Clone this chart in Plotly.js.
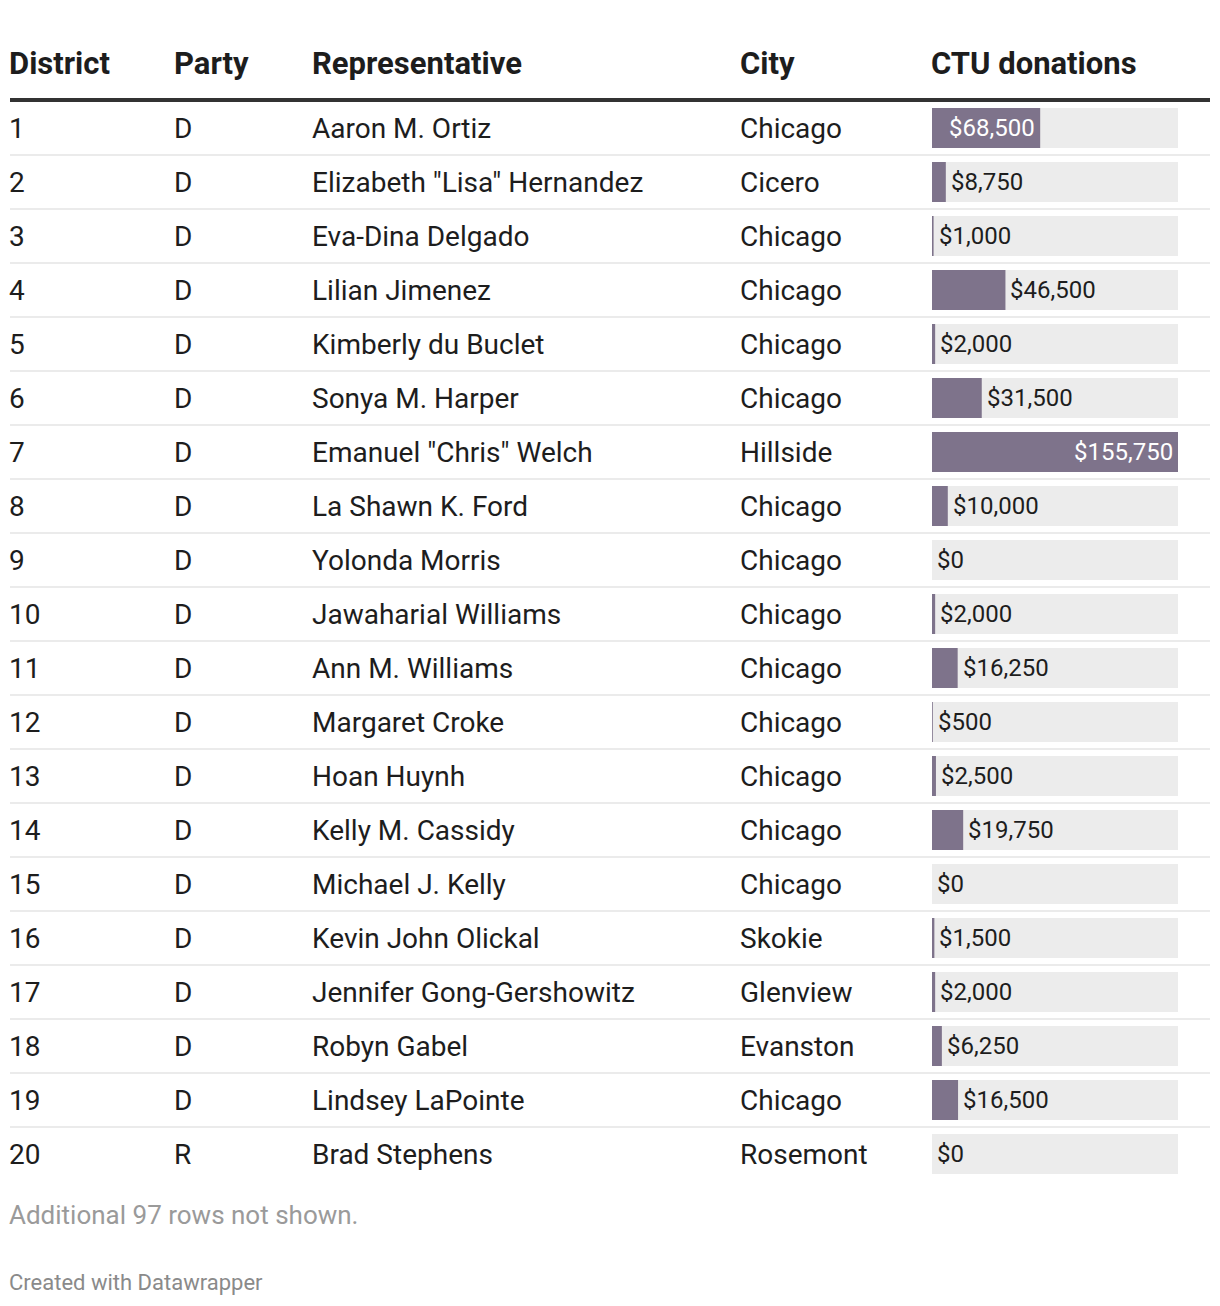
<!DOCTYPE html>
<html>
<head>
<meta charset="utf-8">
<script src="https://cdn.plot.ly/plotly-3.0.1.min.js"></script>
<style>html,body{margin:0;padding:0;background:#fff;}#chart{width:1220px;height:1306px;}</style>
</head>
<body>
<div id="chart"></div>
<script>
const headers = ["District", "Party", "Representative", "City", "CTU donations"];
const districts = ["1","2","3","4","5","6","7","8","9","10","11","12","13","14","15","16","17","18","19","20"];
const parties = ["D","D","D","D","D","D","D","D","D","D","D","D","D","D","D","D","D","D","D","R"];
const representatives = ["Aaron M. Ortiz","Elizabeth \"Lisa\" Hernandez","Eva-Dina Delgado","Lilian Jimenez","Kimberly du Buclet","Sonya M. Harper","Emanuel \"Chris\" Welch","La Shawn K. Ford","Yolonda Morris","Jawaharial Williams","Ann M. Williams","Margaret Croke","Hoan Huynh","Kelly M. Cassidy","Michael J. Kelly","Kevin John Olickal","Jennifer Gong-Gershowitz","Robyn Gabel","Lindsey LaPointe","Brad Stephens"];
const cities = ["Chicago","Cicero","Chicago","Chicago","Chicago","Chicago","Hillside","Chicago","Chicago","Chicago","Chicago","Chicago","Chicago","Chicago","Chicago","Skokie","Glenview","Evanston","Chicago","Rosemont"];
const donations = [68500,8750,1000,46500,2000,31500,155750,10000,0,2000,16250,500,2500,19750,0,1500,2000,6250,16500,0];
const footnote = "Additional 97 rows not shown.";
const credit = "Created with Datawrapper";

const W = 1220, H = 1306;
const rowH = 54, firstRowY = 128;
const toRow = px => (px - firstRowY) / rowH;
const rows = donations.map((_, i) => i);
const maxVal = Math.max(...donations);
const fmt = v => "$" + v.toLocaleString("en-US");

const textColor = "#1d1d1d";
const barColor = "#7e738b";
const trackColor = "#ececec";
const font = "Roboto, 'Noto Sans', sans-serif";

const colX = [10, 175, 313, 741, 932];
const barX0 = 932, barX1 = 1178;
const labelSize = 24;

const annotations = [];
headers.forEach((h, c) => {
  annotations.push({xref: "paper", yref: "y", x: colX[c] / W, xshift: -3, y: toRow(63), xanchor: "left", yanchor: "middle",
    text: "<b>" + h + "</b>", showarrow: false, font: {family: font, size: 31, color: textColor}});
});
const cols = [districts, parties, representatives, cities];
cols.forEach((col, c) => {
  col.forEach((t, i) => {
    annotations.push({xref: "paper", yref: "y", x: colX[c] / W, xshift: -3, y: i, xanchor: "left", yanchor: "middle",
      text: t, showarrow: false, font: {family: font, size: 28, color: textColor}});
  });
});
// value labels: inside the bar (white, right-aligned) if they fit, else just after the bar end
donations.forEach((v, i) => {
  const label = fmt(v);
  const commas = (label.match(/,/g) || []).length;
  const estW = ((label.length - commas) * 0.562 + commas * 0.22) * labelSize;
  const barPx = v / maxVal * (barX1 - barX0);
  const inside = barPx >= estW + 14;
  annotations.push({xref: "x", yref: "y", x: v, y: i, showarrow: false,
    xanchor: inside ? "right" : "left", xshift: inside ? -3 : 3, yanchor: "middle",
    text: label, font: {family: font, size: labelSize, color: inside ? "#ffffff" : textColor}});
});
annotations.push({xref: "paper", yref: "y", x: 10 / W, xshift: -3, y: toRow(1215), xanchor: "left", yanchor: "middle",
  text: footnote, showarrow: false, font: {family: font, size: 26, color: "#9a9a9a"}});
annotations.push({xref: "paper", yref: "y", x: 10 / W, xshift: -3, y: toRow(1282), xanchor: "left", yanchor: "middle",
  text: credit, showarrow: false, font: {family: font, size: 22, color: "#8a8a8a"}});

const shapes = [];
shapes.push({type: "line", xref: "paper", yref: "y", x0: 10 / W, x1: 1210 / W, y0: toRow(100), y1: toRow(100),
  line: {color: "#333333", width: 4}});
rows.slice(0, -1).forEach(i => {
  shapes.push({type: "line", xref: "paper", yref: "y", x0: 10 / W, x1: 1210 / W, y0: i + 0.5, y1: i + 0.5,
    line: {color: "#ebebeb", width: 2}});
});

const track = {
  type: "bar", orientation: "h", y: rows, x: donations.map(() => maxVal), width: 40 / rowH,
  marker: {color: trackColor, line: {width: 0}}, hoverinfo: "skip", showlegend: false
};
const bars = {
  type: "bar", orientation: "h", y: rows, x: donations, width: 40 / rowH,
  marker: {color: barColor, line: {width: 0}},
  showlegend: false, hoverinfo: "skip"
};

const layout = {
  width: W, height: H, margin: {l: 0, r: 0, t: 0, b: 0},
  paper_bgcolor: "#ffffff", plot_bgcolor: "rgba(0,0,0,0)",
  barmode: "overlay", showlegend: false,
  xaxis: {domain: [barX0 / W, barX1 / W], range: [0, maxVal], visible: false, fixedrange: true},
  yaxis: {domain: [0, 1], range: [toRow(H), toRow(0)], visible: false, fixedrange: true},
  annotations: annotations, shapes: shapes, font: {family: font}
};

Plotly.newPlot("chart", [track, bars], layout, {displayModeBar: false, staticPlot: true});
</script>
</body>
</html>
